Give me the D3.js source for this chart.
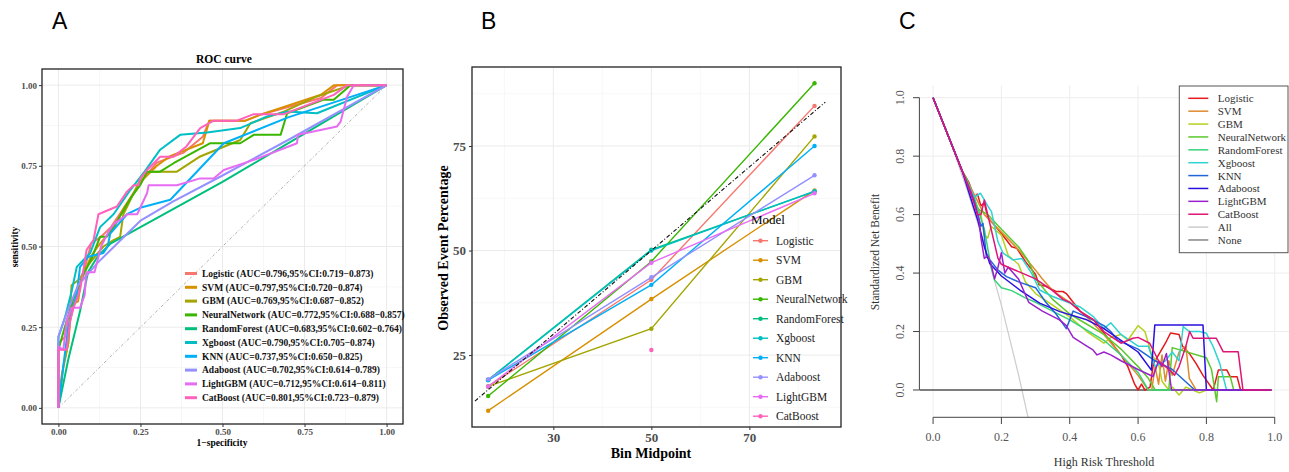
<!DOCTYPE html>
<html><head><meta charset="utf-8">
<script src="https://cdn.jsdelivr.net/npm/d3@7"></script>
<style>body{margin:0;background:#fff}svg{display:block}</style>
</head><body>
<svg id="c" width="1289" height="472"></svg>
<script>
// ---------------- DATA ----------------
const models = ["Logistic","SVM","GBM","NeuralNetwork","RandomForest","Xgboost","KNN","Adaboost","LightGBM","CatBoost"];
const rocLegend = [
 "Logistic (AUC=0.796,95%CI:0.719\u22120.873)",
 "SVM (AUC=0.797,95%CI:0.720\u22120.874)",
 "GBM (AUC=0.769,95%CI:0.687\u22120.852)",
 "NeuralNetwork (AUC=0.772,95%CI:0.688\u22120.857)",
 "RandomForest (AUC=0.683,95%CI:0.602\u22120.764)",
 "Xgboost (AUC=0.790,95%CI:0.705\u22120.874)",
 "KNN (AUC=0.737,95%CI:0.650\u22120.825)",
 "Adaboost (AUC=0.702,95%CI:0.614\u22120.789)",
 "LightGBM (AUC=0.712,95%CI:0.614\u22120.811)",
 "CatBoost (AUC=0.801,95%CI:0.723\u22120.879)"
];
const rocTicks = [0,0.25,0.5,0.75,1];
// ROC curves [1-specificity, sensitivity]
const rocLogistic = [[0,0],[0,0.2],[0.02,0.22],[0.03,0.28],[0.05,0.33],[0.07,0.4],[0.09,0.47],[0.1,0.51],[0.13,0.53],[0.16,0.56],[0.2,0.62],[0.25,0.7],[0.3,0.76],[0.38,0.79],[0.44,0.84],[0.46,0.89],[0.57,0.89],[0.62,0.91],[0.8,0.96],[0.85,1],[1,1]];
const rocSVM = [[0,0],[0.01,0.1],[0.03,0.2],[0.04,0.32],[0.06,0.33],[0.07,0.4],[0.1,0.47],[0.12,0.5],[0.17,0.56],[0.2,0.62],[0.26,0.71],[0.3,0.75],[0.34,0.78],[0.44,0.82],[0.46,0.89],[0.57,0.89],[0.62,0.91],[0.8,0.97],[0.84,1],[1,1]];
const rocGBM = [[0,0],[0.015,0.13],[0.03,0.2],[0.04,0.38],[0.066,0.4],[0.08,0.43],[0.137,0.5],[0.168,0.52],[0.188,0.53],[0.198,0.6],[0.259,0.727],[0.29,0.732],[0.361,0.732],[0.432,0.779],[0.554,0.83],[0.585,0.882],[0.687,0.918],[0.788,0.965],[0.89,1],[1,1]];
const rocNeural = [[0,0],[0,0.18],[0.025,0.27],[0.05,0.35],[0.08,0.42],[0.1,0.46],[0.127,0.53],[0.148,0.53],[0.18,0.58],[0.22,0.65],[0.249,0.69],[0.27,0.732],[0.31,0.732],[0.351,0.758],[0.463,0.82],[0.554,0.82],[0.595,0.846],[0.677,0.846],[0.697,0.913],[0.809,0.955],[0.839,0.955],[0.89,1],[1,1]];
const rocRF = [[0,0],[0.03,0.15],[0.066,0.3],[0.09,0.42],[0.12,0.47],[0.16,0.51],[0.25,0.56],[0.5,0.7],[0.75,0.85],[1,1]];
const rocXgb = [[0,0],[0,0.22],[0.02,0.28],[0.04,0.36],[0.056,0.437],[0.097,0.48],[0.127,0.56],[0.168,0.6],[0.219,0.675],[0.259,0.727],[0.31,0.8],[0.371,0.846],[0.453,0.853],[0.554,0.867],[0.636,0.903],[0.697,0.918],[0.788,0.913],[1,1]];
const rocKNN = [[0,0],[0.015,0.13],[0.03,0.25],[0.056,0.355],[0.066,0.437],[0.091,0.468],[0.137,0.48],[0.15,0.5],[0.158,0.54],[0.209,0.6],[0.249,0.62],[0.341,0.645],[0.504,0.82],[0.7,0.9],[1,1]];
const rocAda = [[0,0],[0,0.22],[0.02,0.28],[0.06,0.38],[0.12,0.45],[0.2,0.53],[0.25,0.58],[0.35,0.64],[0.5,0.72],[0.7,0.83],[1,1]];
const rocLGBM = [[0,0],[0,0.19],[0.015,0.18],[0.025,0.27],[0.04,0.31],[0.066,0.31],[0.08,0.35],[0.085,0.42],[0.11,0.42],[0.13,0.5],[0.155,0.55],[0.17,0.57],[0.21,0.6],[0.24,0.6],[0.27,0.665],[0.275,0.69],[0.361,0.69],[0.432,0.711],[0.473,0.711],[0.504,0.737],[0.6,0.77],[0.727,0.82],[0.73,0.846],[0.849,0.872],[0.86,0.887],[0.88,0.965],[0.9,1],[1,1]];
const rocCat = [[0,0],[0,0.18],[0.025,0.18],[0.036,0.27],[0.046,0.31],[0.066,0.365],[0.086,0.49],[0.107,0.52],[0.122,0.6],[0.178,0.624],[0.209,0.67],[0.229,0.69],[0.244,0.69],[0.249,0.71],[0.27,0.737],[0.31,0.778],[0.35,0.778],[0.39,0.81],[0.432,0.867],[0.473,0.89],[0.544,0.89],[0.595,0.91],[0.687,0.91],[0.839,0.97],[0.88,1],[1,1]];

// Calibration (panel B)
const calBins = [16.7, 50, 83.3];
const calLogistic = [17.5, 43.0, 84.6];
const calSVM = [11.7, 38.4, 64.4];
const calGBM = [17.5, 31.3, 77.3];
const calNeural = [15.2, 47.4, 90.0];
const calRF = [19.1, 50.2, 64.1];
const calXgb = [19.0, 50.0, 64.2];
const calKNN = [19.0, 41.8, 75.0];
const calAda = [19.2, 43.6, 68.0];
const calLGBM = [17.5, 47.1, 63.7];
const calCat = [null, 26.2, null];
const calRef = [14, 85.5];
const calXTicks = [30, 50, 70];
const calYTicks = [25, 50, 75];

// Decision curves (panel C) [threshold, standardized net benefit]
const dcaLogistic = [[0,1],[0.085,0.75],[0.105,0.71],[0.12,0.66],[0.13,0.67],[0.14,0.63],[0.15,0.64],[0.16,0.59],[0.19,0.55],[0.23,0.49],[0.245,0.485],[0.27,0.44],[0.3,0.395],[0.31,0.36],[0.33,0.355],[0.36,0.337],[0.38,0.337],[0.39,0.33],[0.41,0.3],[0.43,0.27],[0.47,0.24],[0.49,0.21],[0.51,0.18],[0.53,0.15],[0.55,0.12],[0.57,0.08],[0.59,0.02],[0.6,0.0],[0.61,0.02],[0.62,0.0],[0.635,0.01],[0.645,0.09],[0.66,0.12],[0.68,0.16],[0.695,0.195],[0.72,0.19],[0.73,0.15],[0.75,0.125],[0.77,0.09],[0.79,0.05],[0.82,0.0],[0.835,0.068],[0.86,0.068],[0.87,0.045],[0.89,0.045],[0.9,0.0],[0.99,0.0]];
const dcaSVM = [[0,1],[0.085,0.75],[0.12,0.67],[0.15,0.6],[0.2,0.54],[0.25,0.48],[0.3,0.41],[0.32,0.38],[0.35,0.34],[0.4,0.3],[0.45,0.25],[0.5,0.19],[0.55,0.12],[0.6,0.05],[0.63,0.0],[0.64,0.0],[0.65,0.08],[0.66,0.02],[0.67,0.12],[0.68,0.03],[0.69,0.1],[0.7,0.05],[0.72,0.13],[0.74,0.15],[0.75,0.04],[0.76,0.02],[0.77,0.0],[0.99,0.0]];
const dcaGBM = [[0,1],[0.085,0.75],[0.11,0.68],[0.14,0.6],[0.15,0.53],[0.16,0.52],[0.17,0.56],[0.2,0.53],[0.22,0.46],[0.25,0.43],[0.27,0.37],[0.3,0.33],[0.35,0.29],[0.4,0.25],[0.45,0.2],[0.5,0.16],[0.52,0.18],[0.55,0.19],[0.57,0.17],[0.6,0.22],[0.62,0.2],[0.64,0.12],[0.66,0.09],[0.67,0.03],[0.69,0.0],[0.7,0.01],[0.72,-0.017],[0.74,0.01],[0.76,0.0],[0.78,-0.01],[0.8,0.0],[0.99,0.0]];
const dcaNeural = [[0,1],[0.085,0.75],[0.1,0.72],[0.13,0.62],[0.16,0.6],[0.2,0.55],[0.25,0.49],[0.28,0.44],[0.3,0.38],[0.35,0.31],[0.4,0.26],[0.5,0.19],[0.55,0.14],[0.6,0.08],[0.63,0.04],[0.65,0.0],[0.69,0.0],[0.7,0.145],[0.8,0.11],[0.815,0.07],[0.83,-0.04],[0.835,0.045],[0.87,0.045],[0.88,0.0],[0.99,0.0]];
const dcaRF = [[0,1],[0.085,0.75],[0.12,0.66],[0.15,0.55],[0.17,0.42],[0.18,0.376],[0.2,0.35],[0.23,0.34],[0.27,0.315],[0.3,0.3],[0.4,0.24],[0.5,0.17],[0.55,0.12],[0.6,0.06],[0.63,0.0],[0.99,0.0]];
const dcaXgb = [[0,1],[0.085,0.75],[0.12,0.66],[0.139,0.673],[0.16,0.63],[0.171,0.61],[0.19,0.507],[0.205,0.468],[0.234,0.445],[0.26,0.45],[0.288,0.4],[0.312,0.342],[0.35,0.32],[0.429,0.285],[0.47,0.25],[0.5,0.21],[0.52,0.23],[0.55,0.19],[0.6,0.15],[0.63,0.15],[0.65,0.08],[0.68,0.1],[0.7,0.13],[0.72,0.1],[0.732,0.217],[0.75,0.2],[0.78,0.2],[0.8,0.194],[0.82,0.148],[0.839,0.091],[0.859,0.0],[0.99,0.0]];
const dcaKNN = [[0,1],[0.085,0.75],[0.12,0.65],[0.14,0.56],[0.146,0.57],[0.156,0.456],[0.17,0.44],[0.19,0.41],[0.215,0.388],[0.25,0.37],[0.3,0.35],[0.33,0.3],[0.36,0.26],[0.39,0.21],[0.41,0.27],[0.45,0.25],[0.5,0.22],[0.52,0.2],[0.54,0.17],[0.6,0.14],[0.65,0.1],[0.7,0.07],[0.766,0.0],[0.99,0.0]];
const dcaAda = [[0,1],[0.085,0.75],[0.12,0.62],[0.132,0.576],[0.15,0.49],[0.166,0.433],[0.2,0.39],[0.254,0.342],[0.312,0.297],[0.371,0.268],[0.45,0.24],[0.5,0.21],[0.6,0.13],[0.639,0.068],[0.649,0.222],[0.79,0.222],[0.8,0.0],[0.99,0.0]];
const dcaLGBM = [[0,1],[0.085,0.75],[0.12,0.64],[0.135,0.58],[0.14,0.52],[0.15,0.45],[0.16,0.46],[0.17,0.43],[0.18,0.38],[0.19,0.42],[0.2,0.47],[0.21,0.4],[0.22,0.42],[0.25,0.38],[0.28,0.3],[0.32,0.27],[0.37,0.24],[0.39,0.22],[0.41,0.18],[0.45,0.15],[0.468,0.137],[0.48,0.12],[0.5,0.13],[0.52,0.12],[0.55,0.1],[0.6,0.07],[0.644,0.046],[0.66,0.1],[0.67,0.08],[0.683,0.125],[0.698,0.0],[0.99,0.0]];
const dcaCat = [[0,1],[0.085,0.75],[0.11,0.68],[0.13,0.6],[0.14,0.6],[0.15,0.65],[0.16,0.6],[0.17,0.55],[0.19,0.45],[0.2,0.43],[0.22,0.42],[0.3,0.38],[0.35,0.34],[0.38,0.31],[0.4,0.3],[0.42,0.28],[0.44,0.26],[0.47,0.24],[0.5,0.2],[0.55,0.16],[0.585,0.177],[0.6,0.18],[0.634,0.16],[0.66,0.1],[0.69,0.07],[0.707,0.051],[0.72,0.08],[0.74,0.15],[0.751,0.2],[0.761,0.177],[0.829,0.177],[0.849,0.131],[0.893,0.131],[0.907,0.0],[0.99,0.0]];
const dcaAll = [[0,1],[0.05,0.851],[0.1,0.684],[0.15,0.499],[0.2,0.29],[0.25,0.053],[0.278,-0.094]];
const dcaNone = [[-0.04,0],[0.99,0]];
const dcaNames = ["Logistic","SVM","GBM","NeuralNetwork","RandomForest","Xgboost","KNN","Adaboost","LightGBM","CatBoost","All","None"];
const dcaTicks = [0,0.2,0.4,0.6,0.8,1.0];

// ---------------- STYLE ----------------
const ggColors = ["#F8766D","#D89000","#A3A500","#39B600","#00BF7D","#00BFC4","#00B0F6","#9590FF","#E76BF3","#FF62BC"];
const dcaColors = ["#E3191C","#DE8A2E","#B5D11E","#5BC82C","#38D27A","#2FD3D3","#2166D9","#2A10DE","#9B22CB","#DE1478","#CCCCCC","#858585"];
const serif = "'Liberation Serif','Times New Roman',serif";
const sans = "'Liberation Sans',Arial,sans-serif";

const svg = d3.select("#c");

// panel letters
[["A",52,29],["B",481,29],["C",899,29]].forEach(([t,x,y])=>{
  svg.append("text").attr("x",x).attr("y",y).attr("font-family",sans).attr("font-size",23).text(t);
});

// ================= PANEL A =================
{
  const xA = d3.scaleLinear().domain([-0.05,1.05]).range([42,403]);
  const yA = d3.scaleLinear().domain([-0.05,1.05]).range([424,69]);
  const g = svg.append("g");
  const minor = [0.125,0.375,0.625,0.875];
  g.selectAll(".mnx").data(minor).join("line").attr("x1",d=>xA(d)).attr("x2",d=>xA(d)).attr("y1",69).attr("y2",424).attr("stroke","#F4F4F4").attr("stroke-width",0.7);
  g.selectAll(".mny").data(minor).join("line").attr("y1",d=>yA(d)).attr("y2",d=>yA(d)).attr("x1",42).attr("x2",403).attr("stroke","#F4F4F4").attr("stroke-width",0.7);
  g.selectAll(".mjx").data(rocTicks).join("line").attr("x1",d=>xA(d)).attr("x2",d=>xA(d)).attr("y1",69).attr("y2",424).attr("stroke","#EBEBEB").attr("stroke-width",1);
  g.selectAll(".mjy").data(rocTicks).join("line").attr("y1",d=>yA(d)).attr("y2",d=>yA(d)).attr("x1",42).attr("x2",403).attr("stroke","#EBEBEB").attr("stroke-width",1);

  // diagonal
  g.append("line").attr("x1",xA(0)).attr("y1",yA(0)).attr("x2",xA(1)).attr("y2",yA(1))
    .attr("stroke","#A8A8A8").attr("stroke-width",0.9).attr("stroke-dasharray","3,2,1,2");

  const rocData = [rocLogistic,rocSVM,rocGBM,rocNeural,rocRF,rocXgb,rocKNN,rocAda,rocLGBM,rocCat];
  const line = d3.line().x(d=>xA(d[0])).y(d=>yA(d[1]));
  rocData.forEach((d,i)=>{
    g.append("path").attr("d",line(d)).attr("fill","none").attr("stroke",ggColors[i]).attr("stroke-width",2).attr("stroke-linejoin","round");
  });

  g.append("rect").attr("x",42).attr("y",69).attr("width",361).attr("height",355).attr("fill","none").attr("stroke","#222").attr("stroke-width",1.3);

  const ax = g.append("g").attr("transform","translate(0,424)").call(d3.axisBottom(xA).tickValues(rocTicks).tickFormat(d3.format(".2f")).tickSize(3).tickPadding(2));
  const ay = g.append("g").attr("transform","translate(42,0)").call(d3.axisLeft(yA).tickValues(rocTicks).tickFormat(d3.format(".2f")).tickSize(3).tickPadding(2));
  [ax,ay].forEach(a=>{
    a.select(".domain").remove();
    a.selectAll(".tick line").attr("stroke","#333");
    a.selectAll(".tick text").attr("font-family",serif).attr("font-weight","bold").attr("font-size",9).attr("fill","#4D4D4D");
  });

  g.append("text").attr("x",224).attr("y",63).attr("text-anchor","middle").attr("font-family",serif).attr("font-weight","bold").attr("font-size",11.5).text("ROC curve");
  g.append("text").attr("x",222).attr("y",446).attr("text-anchor","middle").attr("font-family",serif).attr("font-weight","bold").attr("font-size",9.5).text("1\u2212specificity");
  g.append("text").attr("transform","translate(18,247) rotate(-90)").attr("text-anchor","middle").attr("font-family",serif).attr("font-weight","bold").attr("font-size",9.5).text("sensitivity");

  const lg = g.append("g");
  rocLegend.forEach((t,i)=>{
    const y = 273.5 + i*13.8;
    lg.append("line").attr("x1",185).attr("x2",197).attr("y1",y).attr("y2",y).attr("stroke",ggColors[i]).attr("stroke-width",3);
    lg.append("text").attr("x",202).attr("y",y+3.3).attr("font-family",serif).attr("font-weight","bold").attr("font-size",9.5).attr("fill","#111").text(t);
  });
}

// ================= PANEL B =================
{
  const xB = d3.scaleLinear().domain([13.4,88.7]).range([472,841]);
  const yB = d3.scaleLinear().domain([7.8,93.9]).range([427,67]);
  const g = svg.append("g");
  const minX=[20,40,60,80], minY=[12.5,37.5,62.5,87.5];
  g.selectAll(".a").data(minX).join("line").attr("x1",d=>xB(d)).attr("x2",d=>xB(d)).attr("y1",67).attr("y2",427).attr("stroke","#F4F4F4").attr("stroke-width",0.7);
  g.selectAll(".b").data(minY).join("line").attr("y1",d=>yB(d)).attr("y2",d=>yB(d)).attr("x1",472).attr("x2",841).attr("stroke","#F4F4F4").attr("stroke-width",0.7);
  g.selectAll(".c").data(calXTicks).join("line").attr("x1",d=>xB(d)).attr("x2",d=>xB(d)).attr("y1",67).attr("y2",427).attr("stroke","#EBEBEB").attr("stroke-width",1);
  g.selectAll(".d").data(calYTicks).join("line").attr("y1",d=>yB(d)).attr("y2",d=>yB(d)).attr("x1",472).attr("x2",841).attr("stroke","#EBEBEB").attr("stroke-width",1);

  const calData=[calLogistic,calSVM,calGBM,calNeural,calRF,calXgb,calKNN,calAda,calLGBM,calCat];
  const line = d3.line().defined(d=>d[1]!=null).x(d=>xB(d[0])).y(d=>yB(d[1]));
  calData.forEach((vals,i)=>{
    const pts = calBins.map((b,j)=>[b,vals[j]]);
    g.append("path").attr("d",line(pts)).attr("fill","none").attr("stroke",ggColors[i]).attr("stroke-width",1.4);
    g.selectAll(null).data(pts.filter(p=>p[1]!=null)).join("circle").attr("cx",d=>xB(d[0])).attr("cy",d=>yB(d[1])).attr("r",2.2).attr("fill",ggColors[i]);
  });
  g.append("line").attr("x1",xB(calRef[0])).attr("y1",yB(calRef[0])).attr("x2",xB(calRef[1])).attr("y2",yB(calRef[1]))
    .attr("stroke","#111").attr("stroke-width",1.1).attr("stroke-dasharray","4,2,1,2");

  g.append("rect").attr("x",472).attr("y",67).attr("width",369).attr("height",360).attr("fill","none").attr("stroke","#222").attr("stroke-width",1.3);

  const ax = g.append("g").attr("transform","translate(0,427)").call(d3.axisBottom(xB).tickValues(calXTicks).tickSize(3).tickPadding(3));
  const ay = g.append("g").attr("transform","translate(472,0)").call(d3.axisLeft(yB).tickValues(calYTicks).tickSize(3).tickPadding(3));
  [ax,ay].forEach(a=>{
    a.select(".domain").remove();
    a.selectAll(".tick line").attr("stroke","#333");
    a.selectAll(".tick text").attr("font-family",serif).attr("font-weight","bold").attr("font-size",13).attr("fill","#4D4D4D");
  });
  g.append("text").attr("x",651).attr("y",458).attr("text-anchor","middle").attr("font-family",serif).attr("font-weight","bold").attr("font-size",14).text("Bin Midpoint");
  g.append("text").attr("transform","translate(448,248) rotate(-90)").attr("text-anchor","middle").attr("font-family",serif).attr("font-weight","bold").attr("font-size",14).text("Observed Event Percentage");

  g.append("text").attr("x",751).attr("y",223.5).attr("font-family",serif).attr("font-size",13).text("Model");
  models.forEach((m,i)=>{
    const y = 240.7 + i*19.5;
    g.append("line").attr("x1",753).attr("x2",768).attr("y1",y).attr("y2",y).attr("stroke",ggColors[i]).attr("stroke-width",1.4);
    g.append("circle").attr("cx",760.5).attr("cy",y).attr("r",2.2).attr("fill",ggColors[i]);
    g.append("text").attr("x",776).attr("y",y+4).attr("font-family",serif).attr("font-size",11.5).attr("fill","#222").text(m);
  });
}

// ================= PANEL C =================
{
  const xC = d3.scaleLinear().domain([-0.04,1.04]).range([919.4,1288.4]);
  const yC = d3.scaleLinear().domain([-0.0934,1.042]).range([417.3,85.4]);
  const g = svg.append("g");
  g.selectAll(".v").data(dcaTicks).join("line").attr("x1",d=>xC(d)).attr("x2",d=>xC(d)).attr("y1",85.4).attr("y2",417.3).attr("stroke","#EDEDED").attr("stroke-width",1);
  g.selectAll(".h").data(dcaTicks).join("line").attr("y1",d=>yC(d)).attr("y2",d=>yC(d)).attr("x1",919.4).attr("x2",1289).attr("stroke","#EDEDED").attr("stroke-width",1);

  svg.append("clipPath").attr("id","clipC").append("rect").attr("x",919.4).attr("y",85.4).attr("width",370).attr("height",331.9);
  const pg = g.append("g").attr("clip-path","url(#clipC)");
  const line = d3.line().x(d=>xC(d[0])).y(d=>yC(d[1]));
  const dcaData=[dcaLogistic,dcaSVM,dcaGBM,dcaNeural,dcaRF,dcaXgb,dcaKNN,dcaAda,dcaLGBM,dcaCat];
  pg.append("path").attr("d",line(dcaAll)).attr("fill","none").attr("stroke",dcaColors[10]).attr("stroke-width",1.2);
  pg.append("path").attr("d",line(dcaNone)).attr("fill","none").attr("stroke","#555").attr("stroke-width",1.3);
  dcaData.forEach((d,i)=>{
    pg.append("path").attr("d",line(d)).attr("fill","none").attr("stroke",dcaColors[i]).attr("stroke-width",1.5).attr("stroke-linejoin","round");
  });

  // axes (base R style)
  g.append("line").attr("x1",919.4).attr("x2",919.4).attr("y1",yC(0)).attr("y2",yC(1)).attr("stroke","#444").attr("stroke-width",1);
  g.append("line").attr("y1",417.3).attr("y2",417.3).attr("x1",xC(0)).attr("x2",xC(1)).attr("stroke","#444").attr("stroke-width",1);
  g.selectAll(".ty").data(dcaTicks).join("line").attr("x1",913).attr("x2",919.4).attr("y1",d=>yC(d)).attr("y2",d=>yC(d)).attr("stroke","#444");
  g.selectAll(".tx").data(dcaTicks).join("line").attr("y1",417.3).attr("y2",424).attr("x1",d=>xC(d)).attr("x2",d=>xC(d)).attr("stroke","#444");
  g.selectAll(".lx").data(dcaTicks).join("text").attr("x",d=>xC(d)).attr("y",441).attr("text-anchor","middle").attr("font-family",serif).attr("font-size",12).attr("fill","#555").text(d=>d3.format(".1f")(d));
  g.selectAll(".ly").data(dcaTicks).join("text").attr("transform",d=>`translate(904,${yC(d)}) rotate(-90)`).attr("text-anchor","middle").attr("font-family",serif).attr("font-size",12).attr("fill","#555").text(d=>d3.format(".1f")(d));
  g.append("text").attr("x",1104).attr("y",466).attr("text-anchor","middle").attr("font-family",serif).attr("font-size",12).attr("fill","#333").text("High Risk Threshold");
  g.append("text").attr("transform","translate(879,252) rotate(-90)").attr("text-anchor","middle").attr("font-family",serif).attr("font-size",11.5).attr("fill","#333").text("Standardized Net Benefit");

  // legend
  g.append("rect").attr("x",1179.3).attr("y",86).attr("width",108.7).attr("height",166.7).attr("fill","#fff").attr("stroke","#555").attr("stroke-width",1);
  dcaNames.forEach((n,i)=>{
    const y = 98.3 + i*12.88;
    g.append("line").attr("x1",1188.3).attr("x2",1208.3).attr("y1",y).attr("y2",y).attr("stroke",dcaColors[i]).attr("stroke-width",1.5);
    g.append("text").attr("x",1217.7).attr("y",y+4).attr("font-family",serif).attr("font-size",11).attr("fill","#333").text(n);
  });
}
</script></body></html>
